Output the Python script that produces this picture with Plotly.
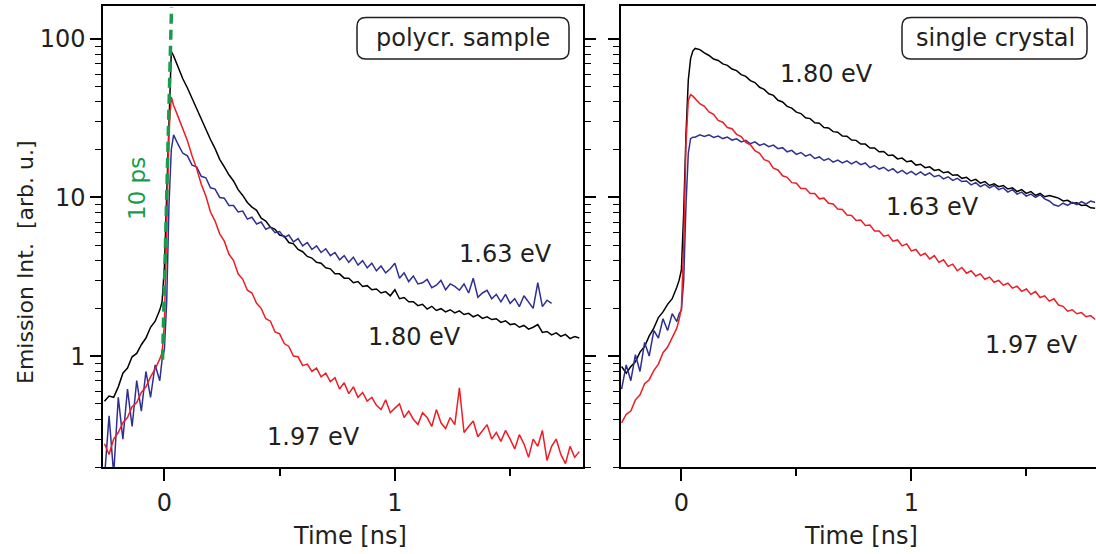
import numpy as np
import plotly.graph_objects as go

W, H = 1096, 554
FONT = "DejaVu Sans, Liberation Sans, Arial, sans-serif"
TXT = "#231f20"
C_BLACK = "#000000"
C_RED = "#ee1c25"
C_BLUE = "#2e3192"
C_GREEN = "#1a9b4b"

# ---------------- time grid (ns) ----------------
t_pre = [-0.26, -0.24, -0.22, -0.20, -0.18, -0.16, -0.14, -0.12, -0.10, -0.08, -0.06, -0.04, -0.02]
t_rise = [-0.01, 0.0, 0.01, 0.02, 0.03, 0.04, 0.05]
t_post = [round(0.06 + 0.02 * i, 2) for i in range(88)]
time_ns = t_pre + t_rise + t_post

# ---------------- polycrystalline sample ----------------
poly_180 = [0.52, 0.56, 0.55, 0.64, 0.78, 0.84, 0.99, 1.04, 1.18, 1.30, 1.52, 1.66, 1.95,
            2.2, 3.6, 11, 32, 83, 78, 72,
            65, 56, 49, 42, 36.5, 31, 27, 23.2, 20.3, 17.4,
            15.6, 13.9, 12.7, 11.2, 10.3, 9.3, 8.7, 8.3, 7.4, 7.1,
            6.5, 6.3, 5.8, 5.7, 5.2, 5.1, 4.7, 4.55, 4.25, 4.15,
            3.9, 3.85, 3.6, 3.55, 3.3, 3.3, 3.1, 3.1, 2.9, 2.95,
            2.75, 2.78, 2.62, 2.65, 2.5, 2.55, 2.4, 2.62, 2.3, 2.34,
            2.2, 2.2, 2.08, 2.12, 1.98, 2.06, 1.94, 1.99, 1.9, 1.96,
            1.87, 1.93, 1.83, 1.86, 1.77, 1.82, 1.73, 1.77, 1.7, 1.72,
            1.63, 1.67, 1.58, 1.6, 1.52, 1.56, 1.48, 1.52, 1.58, 1.41,
            1.43, 1.36, 1.4, 1.33, 1.37, 1.29, 1.33, 1.3]
poly_197 = [0.28, 0.24, 0.30, 0.33, 0.38, 0.41, 0.48, 0.51, 0.59, 0.64, 0.74, 0.83, 0.96,
            1.05, 1.6, 8, 26, 43, 38, 35,
            32, 26.5, 22.8, 18.3, 15.2, 12.1, 10.2, 8.1, 7.1, 5.9,
            5.3, 4.4, 4.0, 3.3, 3.05, 2.6, 2.5, 2.15, 2.0, 1.72,
            1.66, 1.42, 1.38, 1.2, 1.15, 1.0, 0.99, 0.87, 0.89, 0.8,
            0.84, 0.74, 0.78, 0.69, 0.73, 0.62, 0.68, 0.58, 0.64, 0.55,
            0.59, 0.52, 0.55, 0.49, 0.46, 0.53, 0.44, 0.47, 0.5, 0.41,
            0.45, 0.4, 0.37, 0.44, 0.41, 0.36, 0.46, 0.38, 0.35, 0.41,
            0.37, 0.63, 0.33, 0.36, 0.39, 0.31, 0.34, 0.37, 0.3, 0.33,
            0.29, 0.34, 0.3, 0.26, 0.32, 0.28, 0.23, 0.3, 0.27, 0.34,
            0.22, 0.27, 0.3, 0.24, 0.21, 0.27, 0.23, 0.25]
poly_163 = [0.17, 0.42, 0.18, 0.55, 0.3, 0.62, 0.36, 0.7, 0.45, 0.8, 0.55, 0.88, 0.7,
            0.95, 1.1, 2.2, 9, 20, 24.8, 23,
            21.5, 19.0, 18.3, 16.0, 15.6, 13.6, 13.3, 11.5, 11.3, 10.0,
            9.9, 8.9, 8.9, 8.1, 8.2, 7.3, 7.5, 6.8, 7.0, 6.3,
            6.5, 6.0, 6.1, 5.6, 5.8, 5.25, 5.5, 4.95, 5.2, 4.7,
            4.95, 4.5, 4.75, 4.3, 4.5, 4.05, 4.3, 3.9, 4.2, 3.75,
            4.0, 3.6, 3.85, 3.45, 3.7, 3.35, 3.55, 3.85, 3.1, 3.35,
            2.95, 3.2, 2.85, 2.9, 3.05, 2.7, 2.8, 3.0, 2.62, 2.85,
            2.75, 2.6, 2.85, 2.5, 3.1, 2.35, 2.5, 2.6, 2.3, 2.45,
            2.2, 2.45, 2.15, 2.3, 2.05, 2.4, 2.2, 2.0, 2.9, 2.05,
            2.25, 2.15]

# ---------------- single crystal ----------------
cryst_180 = [0.86, 0.78, 0.86, 0.92, 1.06, 1.15, 1.34, 1.5, 1.75, 1.9, 2.12, 2.3, 2.72,
             3.0, 3.5, 8, 25, 55, 75, 84,
             87, 85.5, 81.5, 78.5, 74.5, 73, 69.5, 68, 64.5, 63,
             59.5, 58, 54.5, 53, 49.5, 48, 45, 44, 41, 40,
             37.5, 36.6, 34.5, 33.8, 31.8, 31.4, 29.6, 29.4, 27.6, 27.4,
             26.0, 25.8, 24.4, 24.3, 23.0, 22.9, 21.7, 21.7, 20.5, 20.5,
             19.4, 19.5, 18.4, 18.5, 17.5, 17.7, 16.8, 17.0, 16.0, 16.2,
             15.4, 15.6, 14.8, 15.0, 14.3, 14.5, 13.8, 13.9, 13.2, 13.4,
             12.7, 13.0, 12.3, 12.6, 11.9, 12.2, 11.7, 11.9, 11.3, 11.5,
             10.9, 11.2, 10.6, 10.9, 10.3, 10.6, 10.1, 10.3, 10.1, 9.9,
             9.5, 9.6, 9.2, 9.25, 8.9, 8.95, 8.6, 8.55]
cryst_197 = [0.38, 0.43, 0.45, 0.53, 0.57, 0.67, 0.71, 0.81, 0.89, 1.05, 1.14, 1.31, 1.5,
             1.7, 2.0, 5, 22, 41, 44.5, 43.5,
             42, 39, 37.5, 34.6, 33.4, 30.6, 29.8, 27.6, 27.1, 25,
             24.2, 22.2, 21.5, 19.7, 19.0, 17.3, 16.9, 15.3, 14.9, 13.7,
             13.4, 12.4, 12.3, 11.4, 11.4, 10.6, 10.6, 9.8, 9.9, 9.2,
             9.1, 8.45, 8.4, 7.75, 7.7, 7.15, 7.2, 6.65, 6.7, 6.15,
             6.15, 5.7, 5.8, 5.3, 5.4, 4.95, 5.1, 4.6, 4.7, 4.3,
             4.45, 4.1, 4.3, 3.9, 4.05, 3.68, 3.8, 3.45, 3.62, 3.33,
             3.45, 3.2, 3.3, 3.05, 3.15, 2.92, 3.0, 2.8, 2.88, 2.68,
             2.76, 2.56, 2.65, 2.45, 2.55, 2.34, 2.4, 2.22, 2.3, 2.1,
             2.06, 1.92, 1.96, 1.85, 1.88, 1.77, 1.8, 1.7]
cryst_163 = [0.62, 0.88, 0.7, 1.02, 0.8, 1.22, 1.0, 1.45, 1.3, 1.72, 1.45, 1.85, 1.65,
             1.85, 1.95, 3, 9, 19, 23.5, 24,
             24.0, 24.8, 24.2, 24.8, 23.9, 24.4, 23.5, 24.0, 23.0, 23.4,
             22.4, 22.9, 21.8, 22.4, 21.3, 21.8, 20.9, 21.4, 20.3, 20.6,
             19.4, 19.8, 18.7, 19.2, 18.2, 18.7, 17.6, 18.0, 17.1, 17.6,
             16.7, 17.2, 16.5, 17.0, 16.3, 16.9, 16.1, 16.5, 15.4, 15.9,
             15.1, 15.5, 14.7, 15.2, 14.3, 14.8, 14.1, 14.6, 13.9, 14.5,
             13.8, 14.3, 13.5, 13.8, 13.1, 13.5, 12.8, 13.2, 12.6, 12.7,
             12.0, 12.4, 11.7, 12.1, 11.5, 11.9, 11.2, 11.5, 10.8, 11.2,
             10.5, 10.8, 10.2, 10.5, 10.0, 10.4, 9.8, 9.5, 9.0, 8.8,
             9.2, 8.9, 9.3, 9.0, 9.4, 9.1, 9.5, 9.3]

# 10 ps rise guide
guide_t = [-0.008, 0.031]
guide_v = [0.95, 158]

y_major = [1, 10, 100]
y_minor = [0.2, 0.3, 0.4, 0.5, 0.6, 0.7, 0.8, 0.9,
           2, 3, 4, 5, 6, 7, 8, 9, 20, 30, 40, 50, 60, 70, 80, 90]
x_major = [0, 1]
x_minor = [0.5, 1.5]


def px(x):
    return x / W


def py(y):
    return 1 - y / H


fig = go.Figure()

series = [
    (time_ns, poly_180, C_BLACK, "x", "y"),
    (time_ns[:len(poly_163)], poly_163, C_BLUE, "x", "y"),
    (time_ns, poly_197, C_RED, "x", "y"),
    (time_ns, cryst_180, C_BLACK, "x2", "y2"),
    (time_ns, cryst_163, C_BLUE, "x2", "y2"),
    (time_ns, cryst_197, C_RED, "x2", "y2"),
]
for t, v, col, xa, ya in series:
    fig.add_trace(go.Scatter(x=t, y=v, mode="lines", xaxis=xa, yaxis=ya,
                             line=dict(color=col, width=1.5),
                             showlegend=False, hoverinfo="skip"))

fig.add_trace(go.Scatter(x=guide_t, y=guide_v, mode="lines", xaxis="x", yaxis="y",
                         line=dict(color=C_GREEN, width=3.5, dash="10px,6px"),
                         showlegend=False, hoverinfo="skip"))

tickfont = dict(family=FONT, size=24, color=TXT)


def yaxis(labels, anchor):
    return dict(type="log", range=[np.log10(0.2), np.log10(161)],
                domain=[py(467), py(6)], anchor=anchor, automargin=False,
                tickvals=y_major, ticktext=[str(v) for v in y_major],
                showticklabels=labels, ticks="outside", ticklen=11, tickwidth=1.5,
                tickcolor="black", showline=True, linewidth=2, linecolor="black",
                mirror="ticks", showgrid=False, zeroline=False, tickfont=tickfont,
                minor=dict(tickvals=y_minor, ticks="outside", ticklen=6,
                           tickwidth=1.2, tickcolor="black", showgrid=False))


def xaxis(rng, dom, anchor):
    return dict(range=rng, domain=dom, anchor=anchor, automargin=False,
                tickvals=x_major, ticktext=[str(v) for v in x_major],
                ticks="outside", ticklen=12, tickwidth=1.5, tickcolor="black",
                showline=True, linewidth=2, linecolor="black", mirror=True,
                showgrid=False, zeroline=False, tickfont=tickfont,
                ticklabelstandoff=1,
                minor=dict(tickvals=x_minor, ticks="outside", ticklen=7,
                           tickwidth=1.5, tickcolor="black", showgrid=False))


fig.update_layout(
    width=W, height=H, autosize=False,
    margin=dict(l=0, r=0, t=0, b=0, pad=0),
    paper_bgcolor="white", plot_bgcolor="white",
    xaxis=xaxis([-0.265, 1.814], [px(103.3), px(582.5)], "y"),
    yaxis=yaxis(True, "x"),
    xaxis2=xaxis([-0.264, 1.801], [px(620.7), px(1095.5)], "y2"),
    yaxis2=yaxis(False, "x2"),
)


def ann(text, x, y, size=24, color=TXT, angle=0):
    fig.add_annotation(text=text, x=px(x), y=py(y), xref="paper", yref="paper",
                       showarrow=False, textangle=angle, xanchor="center", yanchor="middle",
                       font=dict(family=FONT, size=size, color=color))


ann("Emission Int.  [arb. u.]", 25, 262, size=22, angle=-90)
ann("Time [ns]", 350, 536)
ann("Time [ns]", 861, 536)
ann("10 ps", 137, 189, size=23, color=C_GREEN, angle=-90)
ann("1.63 eV", 505, 254)
ann("1.80 eV", 414, 337)
ann("1.97 eV", 313, 437)
ann("1.80 eV", 826, 74)
ann("1.63 eV", 932, 207)
ann("1.97 eV", 1031, 345)
ann("polycr. sample", 463, 38)
ann("single crystal", 995, 38)


def rrect(x0, y0, x1, y1, r):
    X = lambda v: f"{px(v):.5f}"
    Y = lambda v: f"{py(v):.5f}"
    return (f"M {X(x0 + r)},{Y(y0)} L {X(x1 - r)},{Y(y0)} Q {X(x1)},{Y(y0)} {X(x1)},{Y(y0 + r)} "
            f"L {X(x1)},{Y(y1 - r)} Q {X(x1)},{Y(y1)} {X(x1 - r)},{Y(y1)} "
            f"L {X(x0 + r)},{Y(y1)} Q {X(x0)},{Y(y1)} {X(x0)},{Y(y1 - r)} "
            f"L {X(x0)},{Y(y0 + r)} Q {X(x0)},{Y(y0)} {X(x0 + r)},{Y(y0)} Z")


for box in [(357, 17.5, 569, 59), (902, 17.5, 1087, 59)]:
    fig.add_shape(type="path", path=rrect(*box, 9), xref="paper", yref="paper",
                  line=dict(color=TXT, width=1.5), fillcolor="rgba(0,0,0,0)")

post = ("document.body.style.margin='0px';document.body.style.overflow='hidden';"
        "var gd=document.getElementById('{plot_id}');"
        "gd.style.width='1096px';gd.style.height='554px';"
        "Plotly.relayout(gd,{width:1096,height:554});")
fig.write_html("out.html", config={"displayModeBar": False, "responsive": False},
               post_script=post)
